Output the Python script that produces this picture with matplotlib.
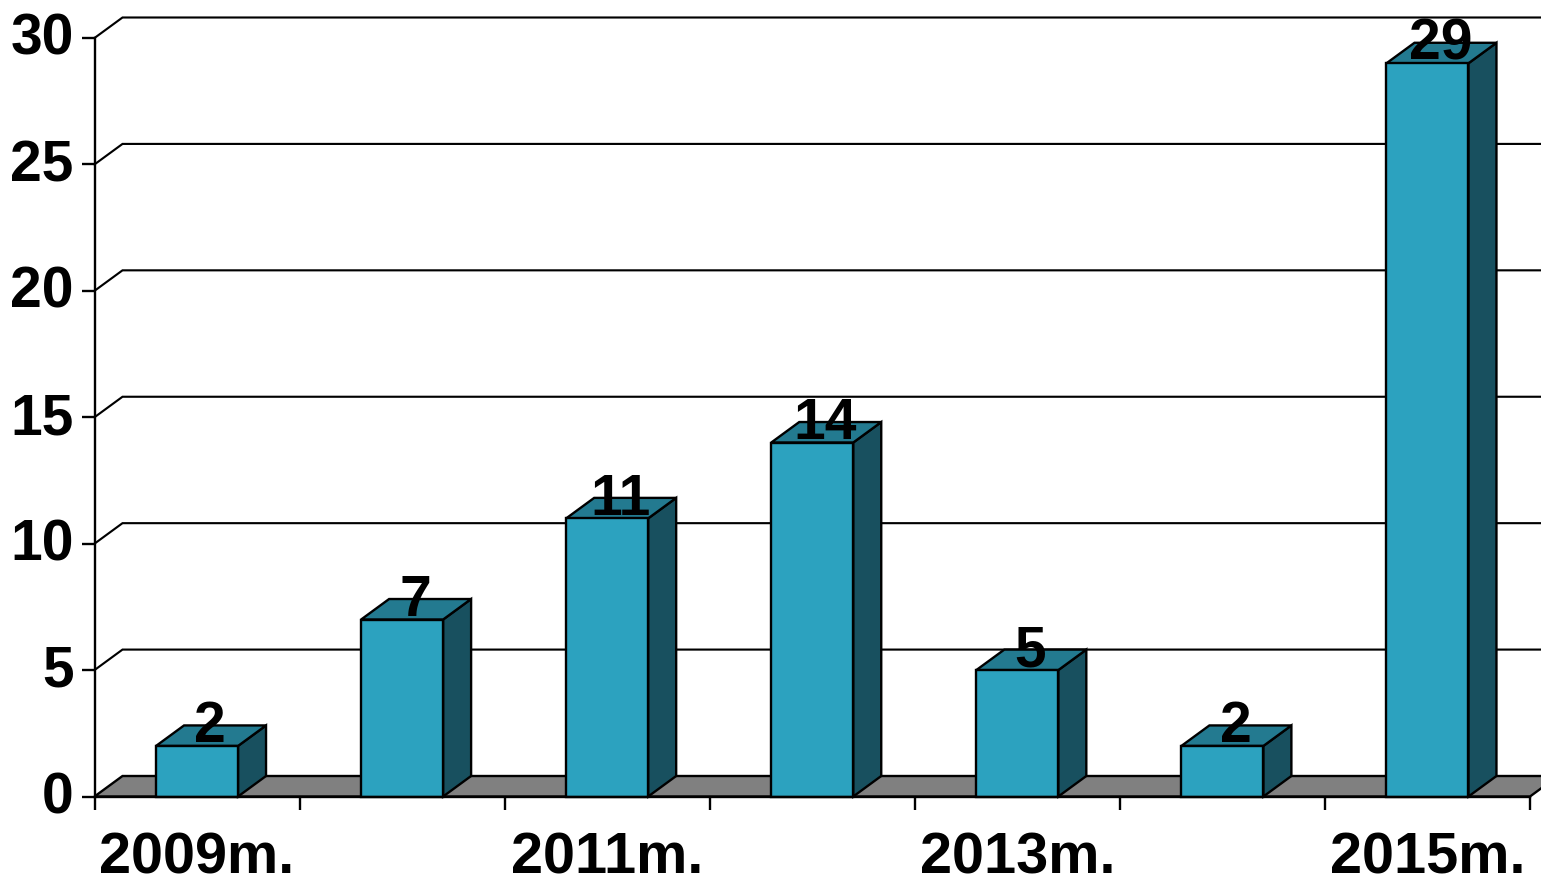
import matplotlib
matplotlib.use("Agg")
import matplotlib.pyplot as plt
from matplotlib.patches import Polygon
from matplotlib.transforms import ScaledTranslation

plt.rcParams['font.family'] = ['Liberation Sans', 'DejaVu Sans']

years = ['2009m.', '', '2011m.', '', '2013m.', '', '2015m.']
values = [2, 7, 11, 14, 5, 2, 29]
y_ticks = [0, 5, 10, 15, 20, 25, 30]

W, H = 1541, 880
X0, X1, Y0, Y30 = 94.5, 1530, 796.5, 38
fig = plt.figure(figsize=(W / 100, H / 100), dpi=100, facecolor='white')
ax = fig.add_axes([X0 / W, 1 - Y0 / H, (X1 - X0) / W, (Y0 - Y30) / H])
n = len(values)
ax.set_xlim(0, n)
ax.set_ylim(0, 30)
ax.patch.set_visible(False)

DX = 28 / ((X1 - X0) / n)
DY = 20.5 / ((Y0 - Y30) / 30)
BW = 82 / ((X1 - X0) / n)
LW = 1.7
INK = 'black'

for v in y_ticks:
    if v == 0:
        continue
    ax.plot([0, DX, n + DX], [v, v + DY, v + DY], color=INK, lw=LW * 0.9,
            clip_on=False, zorder=1, solid_joinstyle='miter')

ax.add_patch(Polygon([(0, 0), (DX, DY), (n + DX, DY), (n, 0)], closed=True,
                     facecolor='#808080', edgecolor=INK, lw=LW, clip_on=False, zorder=2))

for i, v in enumerate(values):
    left = i + 0.5 - BW / 2
    right = left + BW
    ax.add_patch(Polygon([(right, 0), (right + DX, DY), (right + DX, v + DY), (right, v)],
                         closed=True, facecolor='#18505F', edgecolor=INK, lw=LW,
                         clip_on=False, zorder=3))
    ax.add_patch(Polygon([(left, v), (left + DX, v + DY), (right + DX, v + DY), (right, v)],
                         closed=True, facecolor='#237A90', edgecolor=INK, lw=LW,
                         clip_on=False, zorder=3))
    ax.bar(i + 0.5, v, width=BW, color='#2CA2BF', edgecolor=INK, lw=LW, zorder=4, clip_on=False)
    ax.annotate(str(v), (i + 0.5, v), xytext=(9.5, 2.5), textcoords='offset points',
                ha='center', va='baseline', fontsize=41, fontweight='bold', color=INK,
                zorder=6, annotation_clip=False)

for s in ('top', 'right'):
    ax.spines[s].set_visible(False)
for s in ('left', 'bottom'):
    ax.spines[s].set_linewidth(LW)
    ax.spines[s].set_zorder(5)

ax.set_yticks(y_ticks)
ax.set_yticklabels([str(v) for v in y_ticks], fontsize=41, fontweight='bold', va='center_baseline')
ax.tick_params(axis='y', length=9.4, width=LW, pad=5.5)
shift = ScaledTranslation(0, 3 / 72, fig.dpi_scale_trans)
for label in ax.get_yticklabels():
    label.set_transform(label.get_transform() + shift)
ax.set_xticks(range(n + 1))
ax.set_xticklabels([''] * (n + 1))
ax.set_xticks([i + 0.5 for i in range(n)], minor=True)
ax.set_xticklabels(years, minor=True, fontsize=41.5, fontweight='bold')
ax.tick_params(axis='x', which='major', length=9.4, width=LW)
ax.tick_params(axis='x', which='minor', length=0, pad=25.5)

fig.savefig('out.png', dpi=100)
